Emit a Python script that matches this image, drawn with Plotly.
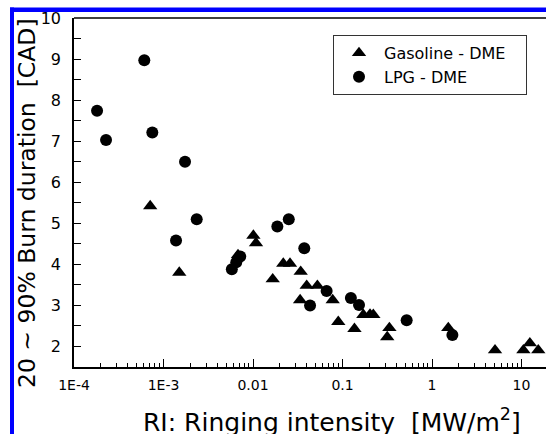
import plotly.graph_objects as go

# ---- data ----
gas_x = [7.1e-4, 1.5e-3, 0.0068, 0.0101, 0.0108, 0.0166, 0.0218, 0.0259, 0.0341, 0.0336,
         0.0398, 0.0524, 0.0777, 0.0897, 0.136, 0.171, 0.203, 0.221, 0.316, 0.334,
         1.52, 5.06, 10.5, 12.4, 15.4]
gas_y = [5.42, 3.80, 4.23, 4.70, 4.52, 3.64, 4.02, 4.02, 3.82, 3.13,
         3.48, 3.48, 3.13, 2.60, 2.43, 2.77, 2.78, 2.77, 2.23, 2.45,
         2.45, 1.91, 1.91, 2.08, 1.91]

lpg_x = [1.81e-4, 2.28e-4, 6.1e-4, 7.5e-4, 1.38e-3, 1.74e-3, 2.35e-3, 5.8e-3, 6.5e-3, 7.2e-3,
         0.0187, 0.0251, 0.0374, 0.0434, 0.0665, 0.124, 0.153, 0.521, 1.69]
lpg_y = [7.74, 7.03, 8.97, 7.21, 4.58, 6.50, 5.10, 3.88, 4.05, 4.19,
         4.92, 5.10, 4.39, 3.00, 3.35, 3.18, 3.01, 2.64, 2.28]

major_vals = [1e-4, 1e-3, 1e-2, 1e-1, 1, 10]
major_text = ["1E-4", "1E-3", "0.01", "0.1", "1", "10"]
minor_vals = [k * 10.0 ** e for e in range(-4, 2) for k in range(2, 10)]
y_vals = [2, 3, 4, 5, 6, 7, 8, 9, 10]

W, H = 546, 434
L, R, T, B = 74, 546, 18, 367          # plot area in pixels
PW, PH = R - L, B - T

def px(x):
    return (x - L) / PW

def py(y):
    return (B - y) / PH

FONT = "DejaVu Sans"
PAD = "\u00a0\u00a0\u00a0"

fig = go.Figure()
fig.add_trace(go.Scatter(
    x=gas_x, y=gas_y, mode="markers", name="Gasoline - DME" + PAD,
    marker=dict(symbol="triangle-up", size=12.5, color="black"),
))
fig.add_trace(go.Scatter(
    x=lpg_x, y=lpg_y, mode="markers", name="LPG - DME",
    marker=dict(symbol="circle", size=12, color="black"),
))

fig.update_layout(
    width=W, height=H,
    margin=dict(l=L, r=W - R, t=T, b=H - B),
    paper_bgcolor="white", plot_bgcolor="white",
    font=dict(family=FONT, color="black"),
    showlegend=True,
    legend=dict(
        x=px(333), y=py(35), xanchor="left", yanchor="top",
        bgcolor="white", bordercolor="#333", borderwidth=1,
        font=dict(family=FONT, size=16, color="black"),
        itemwidth=40, tracegroupgap=0,
    ),
    xaxis=dict(
        type="log", range=[-4, -4 + PW / 89.5],
        showline=True, linecolor="black", linewidth=1.5,
        showgrid=False, zeroline=False,
        tickmode="array", tickvals=major_vals, ticktext=major_text,
        ticks="inside", ticklen=8, tickwidth=1.2, tickcolor="black",
        tickfont=dict(family=FONT, size=14, color="black"),
        ticklabelstandoff=4,
        minor=dict(tickmode="array", tickvals=minor_vals, ticks="inside",
                   ticklen=4, tickwidth=1, tickcolor="black", showgrid=False),
    ),
    yaxis=dict(
        range=[1.5, 10],
        showline=True, linecolor="black", linewidth=1.5,
        showgrid=False, zeroline=False,
        tickmode="array", tickvals=y_vals,
        ticks="inside", ticklen=7, tickwidth=1.2, tickcolor="black",
        tickfont=dict(family=FONT, size=16, color="black"),
        ticklabelstandoff=8,
        minor=dict(tickmode="linear", tick0=1.5, dtick=1, ticks="inside",
                   ticklen=7, tickwidth=1.2, tickcolor="black", showgrid=False),
    ),
)

# top frame line
fig.add_shape(type="line", xref="paper", yref="paper", x0=0, x1=1, y0=1, y1=1,
              line=dict(color="black", width=1.5), layer="above")
# blue selection border (left and top)
fig.add_shape(type="rect", xref="paper", yref="paper",
              x0=px(10), x1=px(14), y0=py(H + 5), y1=py(7.5),
              fillcolor="#0000ff", line=dict(width=0), layer="above")
fig.add_shape(type="rect", xref="paper", yref="paper",
              x0=px(10), x1=px(W + 5), y0=py(12), y1=py(7.5),
              fillcolor="#0000ff", line=dict(width=0), layer="above")

# axis titles
fig.add_annotation(
    xref="paper", yref="paper", x=px(27), y=py(203), textangle=-90,
    text="20 ~ 90% Burn duration\u00a0\u00a0[CAD]", showarrow=False,
    font=dict(family=FONT, size=23.5, color="black"),
    xanchor="center", yanchor="middle",
)
fig.add_annotation(
    xref="paper", yref="paper", x=px(332), y=py(420),
    text="RI: Ringing intensity\u00a0\u00a0[MW/m<sup>2</sup>]", showarrow=False,
    font=dict(family=FONT, size=25, color="black"),
    xanchor="center", yanchor="middle",
)

fig.write_html("out.html")
